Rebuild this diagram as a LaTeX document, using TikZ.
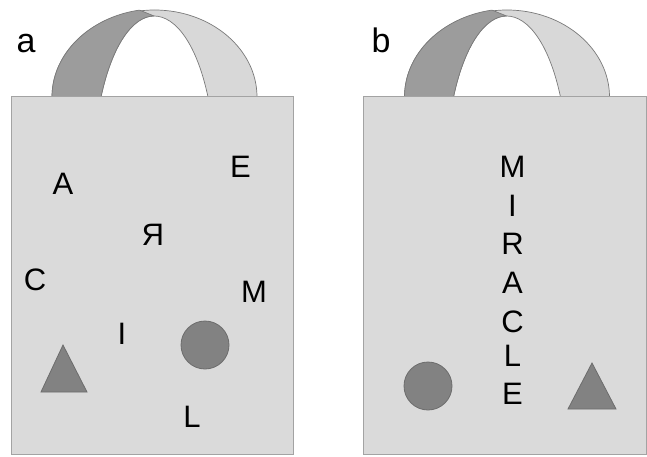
\documentclass[tikz,border=0pt]{standalone}
\usepackage{fontspec}
\setmainfont{Liberation Sans}
\definecolor{bagfill}{HTML}{DADADA}
\definecolor{bagedge}{HTML}{A3A3A3}
\definecolor{hdark}{HTML}{9C9C9C}
\definecolor{hlight}{HTML}{D8D8D8}
\definecolor{hedge}{HTML}{7A7A7A}
\definecolor{shfill}{HTML}{828282}
\definecolor{shedge}{HTML}{6C6C6C}
\tikzset{
  bag/.style={fill=bagfill, draw=bagedge, line width=1pt},
  handlelight/.style={fill=hlight, draw=hedge, line width=0.7pt, line join=round},
  handledark/.style={fill=hdark, draw=hedge, line width=0.7pt, line join=round},
  dot/.style={circle, fill=shfill, draw=shedge, line width=0.8pt, minimum size=48pt, inner sep=0pt},
  tri/.style={fill=shfill, draw=shedge, line width=0.8pt, line join=miter},
  letter/.style={font=\fontsize{31}{31}\selectfont, inner sep=0pt, text=black},
  panel/.style={font=\fontsize{34}{34}\selectfont, inner sep=0pt, text=black}
}
\begin{document}
\begin{tikzpicture}[x=1pt,y=-1pt]
\useasboundingbox (0,0) rectangle (647,457);
\fill[white] (0,0) rectangle (647,457);

% ---------- bag a ----------
\path[handlelight] (52,97) .. controls (52,49) and (98,10) .. (154.5,10)
  .. controls (211,10) and (257,49) .. (257,97) -- (208,97)
  .. controls (197,45) and (176,16) .. (154,16)
  .. controls (133,16) and (112,45) .. (101,97) -- cycle;
\path[handledark] (52,97) .. controls (52,53.3) and (90.1,17.1) .. (139.5,10.1)
  -- (154,16) .. controls (133,16) and (112,45) .. (101,97) -- cycle;
\path[bag] (11,97) rectangle (293,454);
\node[panel] (la) at (26,44) {a};

\node[dot] (ca) at (205,345) {};
\coordinate (ta1) at (63,345);
\coordinate (ta2) at (41,392);
\coordinate (ta3) at (87,392);
\path[tri] (ta1) -- (ta2) -- (ta3) -- cycle;

\node[letter] (aA) at (63,184) {A};
\node[letter] (aE) at (240.5,166.5) {E};
\node[letter] (aR) at (153,234.5) {\reflectbox{R}};
\node[letter] (aC) at (35,280) {C};
\node[letter] (aM) at (254,291.5) {M};
\node[letter] (aI) at (122,334) {I};
\node[letter] (aL) at (192,417) {L};

% ---------- bag b ----------
\begin{scope}[shift={(352.5,0)}]
\path[handlelight] (52,97) .. controls (52,49) and (98,10) .. (154.5,10)
  .. controls (211,10) and (257,49) .. (257,97) -- (208,97)
  .. controls (197,45) and (176,16) .. (154,16)
  .. controls (133,16) and (112,45) .. (101,97) -- cycle;
\path[handledark] (52,97) .. controls (52,53.3) and (90.1,17.1) .. (139.5,10.1)
  -- (154,16) .. controls (133,16) and (112,45) .. (101,97) -- cycle;
\end{scope}
\path[bag] (363.5,97) rectangle (646,454);
\node[panel] (lb) at (381,40) {b};

\node[dot] (cb) at (428,386) {};
\coordinate (tb1) at (592,363);
\coordinate (tb2) at (568,409);
\coordinate (tb3) at (616,409);
\path[tri] (tb1) -- (tb2) -- (tb3) -- cycle;

\node[letter] (bM) at (512.5,166.5) {M};
\node[letter] (bI) at (512.5,206) {I};
\node[letter] (bR) at (512.5,244) {R};
\node[letter] (bA) at (512.5,283) {A};
\node[letter] (bC) at (512.5,321.5) {C};
\node[letter] (bL) at (512.5,356) {L};
\node[letter] (bE) at (512.5,393.5) {E};
\end{tikzpicture}
\end{document}
